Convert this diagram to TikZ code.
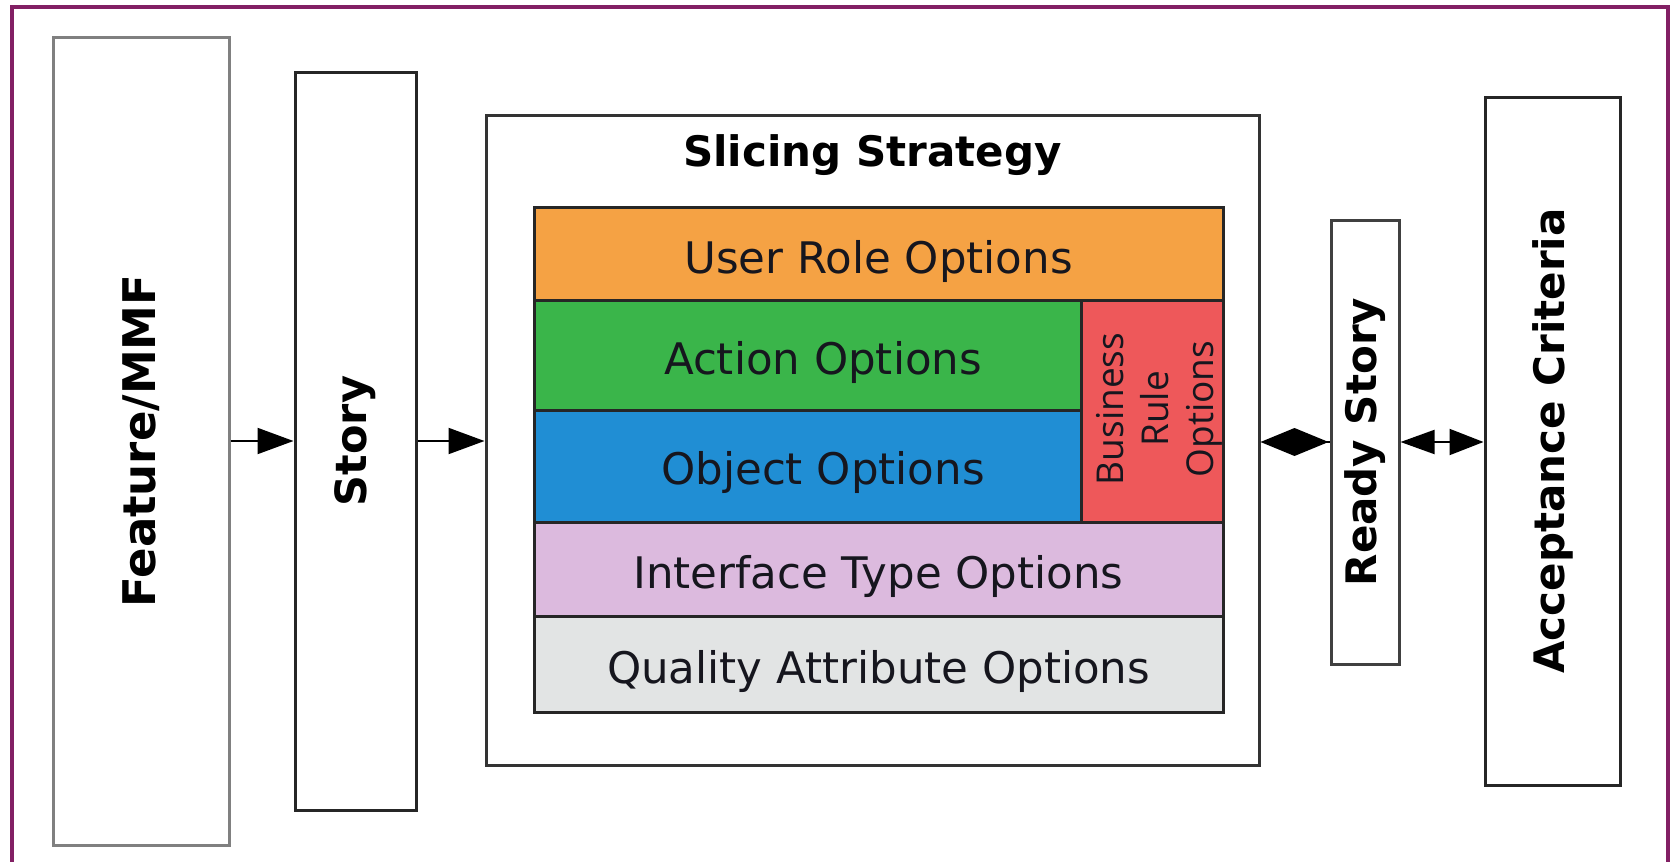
\documentclass[tikz,border=0pt]{standalone}
\usepackage{fontspec}
\setmainfont{DejaVu Sans}
\newfontfamily\osf{Open Sans}
\usetikzlibrary{arrows.meta}
\definecolor{framepurple}{RGB}{130,32,100}
\definecolor{cOrange}{RGB}{245,162,68}
\definecolor{cGreen}{RGB}{58,181,74}
\definecolor{cBlue}{RGB}{32,142,212}
\definecolor{cRed}{RGB}{238,88,90}
\definecolor{cLilac}{RGB}{220,186,222}
\definecolor{cGrey}{RGB}{226,228,228}
\definecolor{txt}{RGB}{22,22,30}
\tikzset{
  box/.style={draw=#1, line width=3pt, fill=white, inner sep=0pt},
  slab/.style={draw=black!85, line width=3pt, fill=#1, inner sep=0pt},
  vlabel/.style={rotate=90, font=\bfseries\fontsize{42}{50}\selectfont, text=black, inner sep=0pt},
  olabel/.style={font=\fontsize{43.5}{52}\selectfont, text=txt, inner sep=0pt},
  flow/.style={line width=2pt, -{Triangle[length=36pt,width=26pt]}},
}
\begin{document}
\begin{tikzpicture}[x=1pt,y=-1pt]
\useasboundingbox (0,0) rectangle (1671,862);
\fill[white] (0,0) rectangle (1671,862);
% frame
\draw[framepurple, line width=4pt] (12,880) -- (12,7) -- (1668,7) -- (1668,880);
% outer boxes
\node[box=black!50, minimum width=176pt, minimum height=808pt] (feat) at (141,441) {};
\node[vlabel, font=\bfseries\fontsize{45}{54}\selectfont] at (feat.center) {Feature/MMF};
\node[box=black!85, minimum width=121pt, minimum height=738pt] (story) at (355.5,441) {};
\node[vlabel, font=\bfseries\fontsize{43}{52}\selectfont] at (story.center) {Story};
\node[box=black!80, minimum width=773pt, minimum height=650pt] (slice) at (872.5,440) {};
\node[font=\bfseries\fontsize{42}{50}\selectfont, anchor=base, inner sep=0pt] (title) at (872.5,166) {Slicing Strategy};
\node[box=black!75, minimum width=68pt, minimum height=444pt] (ready) at (1365,442) {};
\node[vlabel] at (ready.center) {Ready Story};
\node[box=black!85, minimum width=135pt, minimum height=688pt] (acc) at (1552.5,441) {};
\node[vlabel] at (acc.center) {Acceptance Criteria};
% slabs
\node[slab=cOrange, minimum width=689pt, minimum height=93pt] (role) at (878.5,253.5) {};
\node[olabel] at (878.5,261) {User Role Options};
\node[slab=cGreen, minimum width=547pt, minimum height=110pt] (action) at (807.5,355) {};
\node[olabel] at (823,362) {Action Options};
\node[slab=cBlue, minimum width=547pt, minimum height=112pt] (object) at (807.5,466) {};
\node[olabel] at (823,472) {Object Options};
\node[slab=cRed, minimum width=142pt, minimum height=222pt] (rule) at (1152,411) {};
\node[rotate=90, font=\osf\fontsize{37}{45}\selectfont, align=center, text=txt, inner sep=0pt] at (1159,409) {Business\\Rule\\Options};
\node[slab=cLilac, minimum width=689pt, minimum height=94pt] (iface) at (878.5,569) {};
\node[olabel] at (878.5,576) {Interface Type Options};
\node[slab=cGrey, minimum width=689pt, minimum height=96pt] (qual) at (878.5,664) {};
\node[olabel] at (878.5,671) {Quality Attribute Options};
% connectors
\draw[flow] (feat.east) -- (story.west);
\draw[flow] (story.east) -- (story.east -| slice.west);
\draw[line width=2pt, {Diamond[length=68pt,width=28pt]}-] (slice.east |- ready.west) -- (ready.west);
\draw[line width=2pt, {Triangle[length=34pt,width=24pt]}-{Triangle[length=34pt,width=26pt]}] (ready.east) -- (ready.east -| acc.west);
\end{tikzpicture}
\end{document}
